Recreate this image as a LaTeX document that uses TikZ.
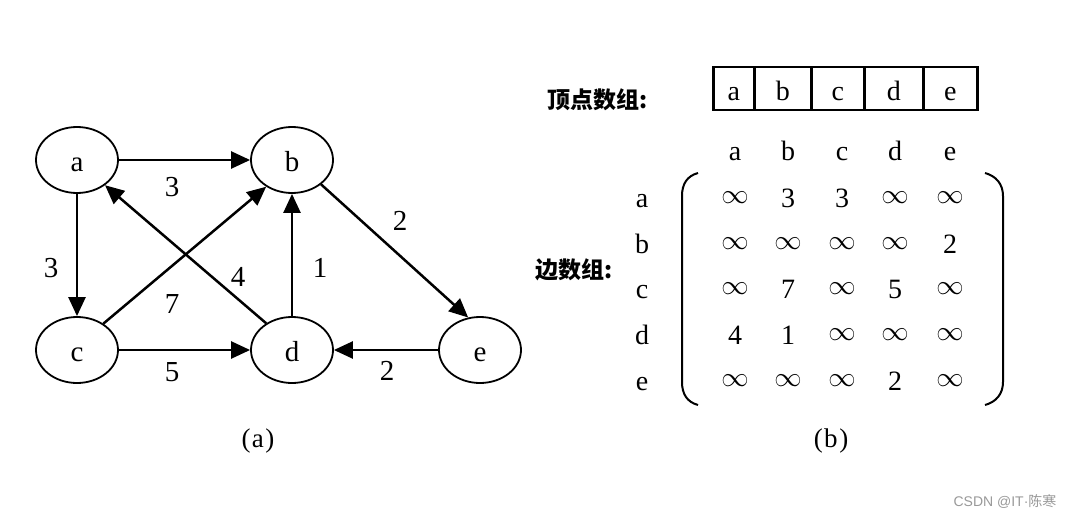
\documentclass[tikz,border=0pt]{standalone}
\usepackage{fontspec}
\setmainfont{Liberation Serif}
\newfontfamily\cjk{Noto Sans CJK SC}
\newfontfamily\wmsans{Liberation Sans}
\usetikzlibrary{arrows.meta,shapes.geometric}
\newcommand\INF{\raisebox{3.5pt}{\scalebox{1.1}{$\infty$}}}
\begin{document}
\begin{tikzpicture}[x=1pt,y=-1pt,
  gfont/.style={font=\fontsize{29}{32}\selectfont},
  rfont/.style={font=\fontsize{28}{30}\selectfont},
  vert/.style={draw, ellipse, line width=1.8pt, minimum width=82pt, minimum height=66pt,
    inner sep=0pt, text height=23pt, text depth=0pt, gfont},
  arc/.style={line width=2.5pt, -{Triangle[length=19pt,width=17pt]}},
  wt/.style={inner sep=0pt, gfont},
  cell/.style={draw, line width=2.6pt, minimum height=43pt, inner sep=0pt, anchor=west,
    text height=24pt, text depth=0pt, rfont},
  lab/.style={inner sep=0pt, anchor=base, rfont},
  zh/.style={inner sep=0pt, anchor=west, font=\cjk\bfseries\fontsize{23}{26}\selectfont},
  brk/.style={line width=2pt},
  captxt/.style={inner sep=0pt, font=\fontsize{27}{30}\selectfont}]
\useasboundingbox (0,0) rectangle (1070,516);
\fill[white] (0,0) rectangle (1070,516);

% ---------- (a) graph ----------
\node[vert] (a) at (77,160) {a};
\node[vert] (b) at (292,160) {b};
\node[vert] (c) at (77,350) {c};
\node[vert] (d) at (292,350) {d};
\node[vert] (e) at (480,350) {e};

\draw[arc] (a) -- (b);
\draw[arc] (a) -- (c);
\draw[arc] (c.45) -- (b.226);
\draw[arc] (d.134) -- (a.-42);
\draw[arc] (d) -- (b);
\draw[arc] (b.-40) -- (e.110);
\draw[arc] (c) -- (d);
\draw[arc] (e) -- (d);

\node[wt] (wab) at (172,187) {3};
\node[wt] (wac) at (51,268) {3};
\node[wt] (wcb) at (172,304) {7};
\node[wt] (wda) at (238,277) {4};
\node[wt] (wdb) at (320,268) {1};
\node[wt] (wbe) at (400,221) {2};
\node[wt] (wcd) at (172,372) {5};
\node[wt] (wed) at (387,371) {2};

\node[captxt] (capa) at (258,441) {(\kern1.5pt a\kern1.5pt)};

% ---------- (b) arrays ----------
\node[zh] (vlabel) at (547,100) {顶点数组:};
\node[cell, minimum width=41pt] (va) at (712,88.5) {a};
\node[cell, minimum width=57pt] (vb) at (753,88.5) {b};
\node[cell, minimum width=53pt] (vc) at (810,88.5) {c};
\node[cell, minimum width=59pt] (vd) at (863,88.5) {d};
\node[cell, minimum width=54pt] (ve) at (922,88.5) {e};

\foreach \n [count=\c] in {a,b,c,d,e} {
  \pgfmathsetmacro\xx{{735,788,842,895,950}[\c-1]}
  \node[lab] (h\n) at (\xx,160) {\n};
  \pgfmathsetmacro\yy{{207,253,298,344,390}[\c-1]}
  \node[lab] (r\n) at (642,\yy) {\n};
}

\foreach \row [count=\r] in {{\INF,3,3,\INF,\INF},{\INF,\INF,\INF,\INF,2},{\INF,7,\INF,5,\INF},{4,1,\INF,\INF,\INF},{\INF,\INF,\INF,2,\INF}} {
  \foreach \v [count=\c] in \row {
    \pgfmathsetmacro\xx{{735,788,842,895,950}[\c-1]}
    \pgfmathsetmacro\yy{{207,253,298,344,390}[\r-1]}
    \node[lab] (m\r\c) at (\xx,\yy) {\v};
  }
}

\draw[brk] (698,173) .. controls (687,176) and (682,184) .. (682,196) -- (682,382)
  .. controls (682,394) and (687,402) .. (698,405);
\draw[brk] (985,173) .. controls (996,176) and (1003,184) .. (1003,196) -- (1003,382)
  .. controls (1003,394) and (996,402) .. (985,405);

\node[zh] (elabel) at (535,270) {边数组:};

\node[captxt] (capb) at (831,441) {(\kern1.5pt b\kern1.5pt)};

\node[inner sep=0pt, text=black!40, font=\fontsize{14}{16}\selectfont] (wm) at (1005,502) {\wmsans CSDN @IT·\cjk 陈寒};
\end{tikzpicture}
\end{document}
